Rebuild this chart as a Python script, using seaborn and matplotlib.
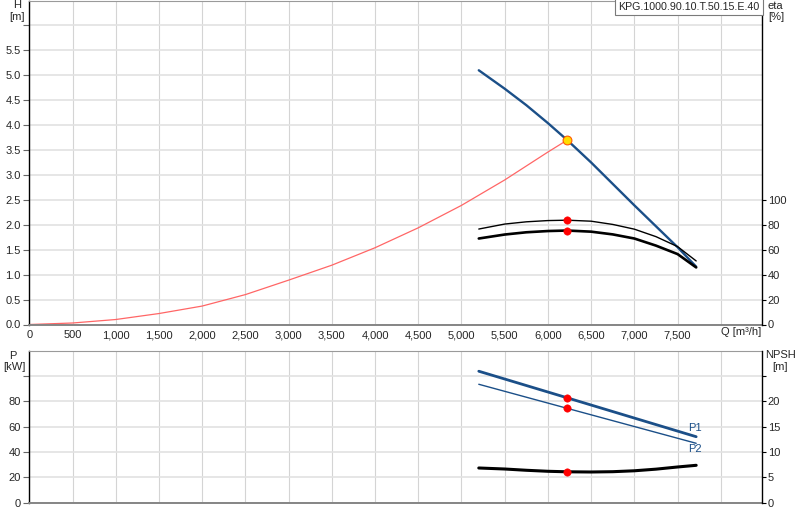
import numpy as np
import pandas as pd
import seaborn as sns
import matplotlib.pyplot as plt

# Pump curve points
q_pump = [5200, 5500, 5750, 6000, 6223, 6500, 6750, 7000, 7250, 7500, 7715]
head = [5.10, 4.73, 4.40, 4.04, 3.70, 3.25, 2.82, 2.39, 1.97, 1.55, 1.16]
eta_pump = [76.6, 80.6, 82.4, 83.4, 83.7, 82.9, 80.3, 76.5, 70.5, 62.5, 51.0]
eta_total = [69.0, 72.2, 74.0, 75.0, 75.4, 74.5, 72.3, 69.0, 63.3, 56.5, 45.8]
npsh = [6.85, 6.65, 6.40, 6.20, 6.10, 6.06, 6.12, 6.30, 6.62, 7.05, 7.38]

q_power = [5200, 6223, 7715]
p1 = [103.8, 82.8, 52.1]
p2 = [93.5, 74.5, 46.9]

# System curve
q_sys = [0, 500, 1000, 1500, 2000, 2500, 3000, 3500, 4000, 4500, 5000, 5500, 6000, 6223]
h_sys = [0.0, 0.03, 0.10, 0.22, 0.37, 0.60, 0.89, 1.19, 1.54, 1.94, 2.39, 2.90, 3.46, 3.70]

# Duty point
q_op = 6223
h_op = 3.70
eta_pump_op = 83.7
eta_total_op = 75.4
p1_op = 82.8
p2_op = 74.5
npsh_op = 6.1

pump_name = "KPG.1000.90.10.T.50.15.E.40"

q_ticks = list(range(0, 8001, 500))
q_labels = ["{:,}".format(q) for q in q_ticks[:-1]] + [""]
h_ticks = list(np.arange(0, 6.01, 0.5))
h_labels = ["%.1f" % h for h in h_ticks[:-1]] + [""]
eta_ticks = [0, 20, 40, 60, 80, 100]
p_ticks = [0, 20, 40, 60, 80, 100]
p_labels = ["0", "20", "40", "60", "80", ""]
npsh_ticks = [0, 5, 10, 15, 20, 25]
npsh_labels = ["0", "5", "10", "15", "20", ""]

sns.set_theme(style="white")
plt.rcParams['font.family'] = ['Liberation Sans', 'DejaVu Sans']

BLUE = "#1b4f88"
W, H = 800, 520

fig = plt.figure(figsize=(8, 5.2), dpi=100)
ax_h = fig.add_axes([29.3 / W, 1 - 324.5 / H, 733 / W, 324 / H])
ax_p = fig.add_axes([29.3 / W, 1 - 502.7 / H, 733 / W, 152 / H])
ax_eta = ax_h.twinx()
ax_n = ax_p.twinx()

# ---------------- Top: head and efficiency ----------------
sns.lineplot(x=q_sys, y=h_sys, ax=ax_h, color='#ff6666', lw=0.9, zorder=2)
sns.lineplot(x=q_pump, y=head, ax=ax_h, color=BLUE, lw=1.7, zorder=3)
sns.scatterplot(x=[q_op], y=[h_op], ax=ax_h, color='#ffdd00', edgecolor='#ff5a00',
                linewidth=0.8, s=40, zorder=5)

sns.lineplot(x=q_pump, y=eta_pump, ax=ax_eta, color='black', lw=1.0)
sns.lineplot(x=q_pump, y=eta_total, ax=ax_eta, color='black', lw=1.9)
sns.scatterplot(x=[q_op, q_op], y=[eta_pump_op, eta_total_op], ax=ax_eta,
                color='#ff0000', edgecolor='#ff0000', s=28, zorder=5)

# ---------------- Bottom: power and NPSH ----------------
sns.lineplot(x=q_power, y=p1, ax=ax_p, color=BLUE, lw=2.0)
sns.lineplot(x=q_power, y=p2, ax=ax_p, color=BLUE, lw=1.0)
sns.scatterplot(x=[q_op, q_op], y=[p1_op, p2_op], ax=ax_p,
                color='#ff0000', edgecolor='#ff0000', s=28, zorder=5)
ax_p.text(7705, 58.6, "P1", color=BLUE, fontsize=8, ha='center', va='center')
ax_p.text(7705, 42.0, "P2", color=BLUE, fontsize=8, ha='center', va='center')

sns.lineplot(x=q_pump, y=npsh, ax=ax_n, color='black', lw=2.2)
sns.scatterplot(x=[q_op], y=[npsh_op], ax=ax_n, color='#ff0000',
                edgecolor='#ff0000', s=28, zorder=5)


def style_axes(ax):
    ax.set_axisbelow(True)
    ax.grid(axis='y', color='#e2e2e2', lw=1.2)
    ax.grid(axis='x', color='#d4d4d4', lw=0.8)
    ax.spines['left'].set_color('black')
    ax.spines['left'].set_linewidth(1.0)
    ax.spines['bottom'].set_color('#858585')
    ax.spines['bottom'].set_linewidth(1.4)
    ax.spines['top'].set_color('#9a9a9a')
    ax.spines['top'].set_linewidth(0.8)
    ax.spines['right'].set_visible(False)
    ax.tick_params(axis='y', length=4, width=0.8, color='#666666', pad=2, labelsize=8)
    ax.set_xlim(0, 8480)
    ax.set_xticks(q_ticks)
    ax.set_xlabel("")
    ax.set_ylabel("")


def style_twin(ax):
    for s in ['left', 'top', 'bottom']:
        ax.spines[s].set_visible(False)
    ax.spines['right'].set_color('black')
    ax.spines['right'].set_linewidth(1.0)
    ax.tick_params(axis='y', length=3, width=0.8, color='black', pad=1, labelsize=8)
    ax.grid(False)
    ax.set_xlabel("")
    ax.set_ylabel("")


style_axes(ax_h)
ax_h.set_ylim(0, 6.5)
ax_h.set_yticks(h_ticks)
ax_h.set_yticklabels(h_labels)
ax_h.set_xticklabels(q_labels)
ax_h.tick_params(axis='x', length=3, width=0.8, color='#666666', pad=1, labelsize=8)
ax_h.text(8000, -0.024, "Q [m³/h]", transform=ax_h.get_xaxis_transform(),
          ha='left', va='center', fontsize=8)

style_twin(ax_eta)
ax_eta.set_ylim(0, 260)
ax_eta.set_yticks(eta_ticks)

ax_eta.text(0.9965, 0.996, pump_name, transform=ax_eta.transAxes, ha='right', va='top',
            fontsize=7.7, zorder=10,
            bbox=dict(boxstyle='square,pad=0.32', fc='white', ec='#7a7a7a', lw=0.8))

style_axes(ax_p)
ax_p.set_ylim(0, 120)
ax_p.set_yticks(p_ticks)
ax_p.set_yticklabels(p_labels)
ax_p.tick_params(axis='x', length=0, labelbottom=False)

style_twin(ax_n)
ax_n.set_ylim(0, 30)
ax_n.set_yticks(npsh_ticks)
ax_n.set_yticklabels(npsh_labels)

# axis unit captions
fig.text(17 / W, 1 - 4.5 / H, "H", ha='center', va='center', fontsize=8)
fig.text(17.5 / W, 1 - 17.5 / H, "[m]", ha='center', va='center', fontsize=8)
fig.text(768 / W, 1 - 6 / H, "eta", ha='left', va='center', fontsize=8)
fig.text(768 / W, 1 - 17.5 / H, "[%]", ha='left', va='center', fontsize=8)
fig.text(13 / W, 1 - 356 / H, "P", ha='center', va='center', fontsize=8)
fig.text(14 / W, 1 - 367 / H, "[kW]", ha='center', va='center', fontsize=8)
fig.text(780 / W, 1 - 355.5 / H, "NPSH", ha='center', va='center', fontsize=8)
fig.text(780 / W, 1 - 367.5 / H, "[m]", ha='center', va='center', fontsize=8)

fig.savefig("out.png", dpi=100)
